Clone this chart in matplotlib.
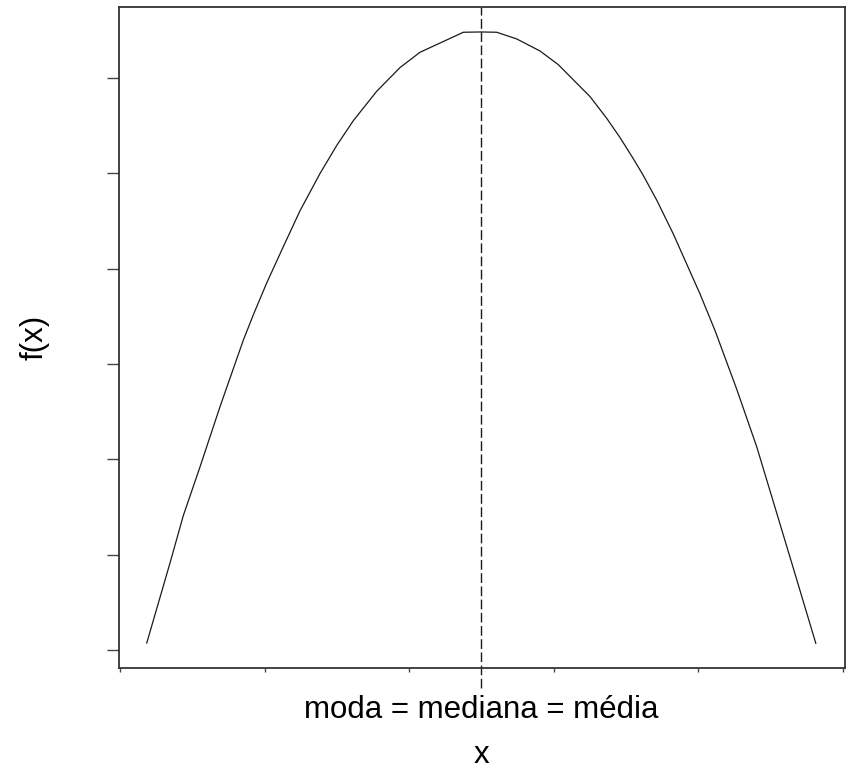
import matplotlib
matplotlib.use("Agg")
import matplotlib.pyplot as plt
import matplotlib.transforms as mtransforms

plt.rcParams['font.family'] = ['Liberation Sans', 'DejaVu Sans']

# Curve (arbitrary units)
x_vals = [0.185, 0.346, 0.438, 0.554, 0.692, 0.853, 0.922, 1.015, 1.130, 1.246,
          1.384, 1.500, 1.615, 1.776, 1.938, 2.076, 2.376, 2.498, 2.607, 2.745,
          2.907, 3.033, 3.253, 3.368, 3.460, 3.552, 3.621, 3.714, 3.829, 4.014,
          4.118, 4.268, 4.406, 4.545, 4.659, 4.815]
f_vals = [0.073, 0.913, 1.410, 1.923, 2.553, 3.250, 3.515, 3.851, 4.232, 4.610,
          5.000, 5.295, 5.555, 5.862, 6.112, 6.272, 6.482, 6.485, 6.482, 6.412,
          6.285, 6.142, 5.806, 5.579, 5.377, 5.155, 4.980, 4.721, 4.365, 3.735,
          3.350, 2.735, 2.133, 1.434, 0.860, 0.070]

center = 2.5
x_ticks = [0, 1, 2, 3, 4, 5]
y_ticks = [0, 1, 2, 3, 4, 5, 6]
center_label = "moda = mediana = média"
xlabel = "x"
ylabel = "f(x)"

W, H = 850, 772
fig = plt.figure(figsize=(W / 100, H / 100), dpi=100)
ax = fig.add_axes([119 / W, 1 - 668 / H, (845 - 119) / W, (668 - 7) / H])

ax.plot(x_vals, f_vals, color='#1a1a1a', linewidth=0.9)
ax.axvline(center, ymin=-0.03, ymax=1, color='#1a1a1a', linewidth=1.0,
           dashes=(7, 2.5), clip_on=False)

ax.set_xlim(-0.007, 5.017)
ax.set_ylim(-0.189, 6.747)

ax.set_xticks(x_ticks)
ax.set_xticklabels([])
ax.set_yticks(y_ticks)
ax.set_yticklabels([])
ax.tick_params(axis='y', direction='out', length=8.6, width=1.0, color='#444444')
ax.tick_params(axis='x', direction='out', length=3, width=1.0, color='#444444')

xfig = mtransforms.blended_transform_factory(ax.transData, fig.transFigure)
fig.text(center, 1 - 718 / H, center_label, transform=xfig,
         ha='center', va='baseline', fontsize=22.5, color='black')
fig.text(center, 1 - 763 / H, xlabel, transform=xfig,
         ha='center', va='baseline', fontsize=22.5, color='black')
yfig = mtransforms.blended_transform_factory(fig.transFigure, ax.transAxes)
fig.text(35 / W, 0.5, ylabel, transform=yfig, rotation=90,
         ha='center', va='center', fontsize=22.5, color='black')

for s in ax.spines.values():
    s.set_color('#333333')
    s.set_linewidth(1.3)

fig.savefig('out.png', dpi=100)
